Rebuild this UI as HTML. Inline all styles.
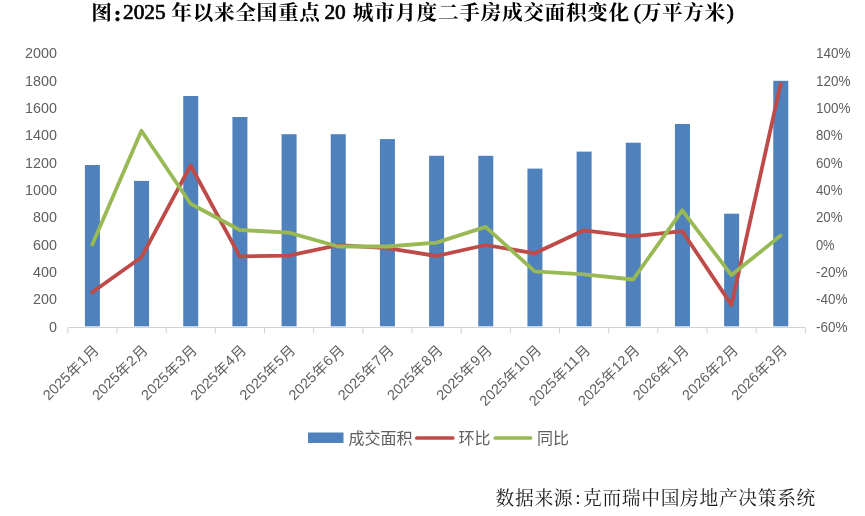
<!DOCTYPE html>
<html lang="zh-CN">
<head>
<meta charset="utf-8">
<title>图:2025年以来全国重点20城市月度二手房成交面积变化(万平方米)</title>
<style>
html,body{margin:0;padding:0;background:#fff;}
body{width:865px;height:516px;overflow:hidden;font-family:"Liberation Sans",sans-serif;}
svg{display:block;position:absolute;left:0;top:0;will-change:transform;}
text{white-space:pre;}
</style>
</head>
<body>
<svg width="865" height="516" viewBox="0 0 865 516" role="img" aria-label="图:2025年以来全国重点20城市月度二手房成交面积变化(万平方米) 数据来源:克而瑞中国房地产决策系统">
<rect x="84.90" y="165.00" width="15.0" height="161.30" fill="#4f81bd"/>
<rect x="134.07" y="180.90" width="15.0" height="145.40" fill="#4f81bd"/>
<rect x="183.24" y="96.00" width="15.0" height="230.30" fill="#4f81bd"/>
<rect x="232.41" y="117.00" width="15.0" height="209.30" fill="#4f81bd"/>
<rect x="281.58" y="134.20" width="15.0" height="192.10" fill="#4f81bd"/>
<rect x="330.75" y="134.20" width="15.0" height="192.10" fill="#4f81bd"/>
<rect x="379.92" y="139.10" width="15.0" height="187.20" fill="#4f81bd"/>
<rect x="429.09" y="155.80" width="15.0" height="170.50" fill="#4f81bd"/>
<rect x="478.26" y="155.80" width="15.0" height="170.50" fill="#4f81bd"/>
<rect x="527.43" y="168.60" width="15.0" height="157.70" fill="#4f81bd"/>
<rect x="576.60" y="151.60" width="15.0" height="174.70" fill="#4f81bd"/>
<rect x="625.77" y="142.70" width="15.0" height="183.60" fill="#4f81bd"/>
<rect x="674.94" y="124.00" width="15.0" height="202.30" fill="#4f81bd"/>
<rect x="724.11" y="213.70" width="15.0" height="112.60" fill="#4f81bd"/>
<rect x="773.28" y="80.80" width="15.0" height="245.50" fill="#4f81bd"/>
<path d="M67.81 327.5H805.37" stroke="#d2d2d2" stroke-width="1" fill="none"/>
<path d="M67.81 327.5v6.0M116.98 327.5v6.0M166.16 327.5v6.0M215.32 327.5v6.0M264.50 327.5v6.0M313.67 327.5v6.0M362.83 327.5v6.0M412.00 327.5v6.0M461.18 327.5v6.0M510.35 327.5v6.0M559.52 327.5v6.0M608.68 327.5v6.0M657.86 327.5v6.0M707.03 327.5v6.0M756.19 327.5v6.0M805.37 327.5v6.0" stroke="#d2d2d2" stroke-width="1" fill="none"/>
<polyline points="92.25,292.30 141.42,257.30 190.59,165.50 239.76,256.40 288.93,255.60 338.10,245.10 387.27,248.10 436.44,256.00 485.61,245.00 534.78,253.30 583.95,230.30 633.12,236.40 682.29,231.20 731.46,304.90 780.63,84.00" fill="none" stroke="#be4b48" stroke-width="3.8" stroke-linejoin="round" stroke-linecap="round"/>
<polyline points="92.25,244.50 141.42,130.80 190.59,203.70 239.76,230.00 288.93,232.60 338.10,246.50 387.27,246.50 436.44,242.60 485.61,226.90 534.78,271.40 583.95,274.40 633.12,279.50 682.29,210.30 731.46,275.10 780.63,235.60" fill="none" stroke="#98b954" stroke-width="3.8" stroke-linejoin="round" stroke-linecap="round"/>
<g font-family="Liberation Sans, sans-serif" font-size="14.3" fill="#5f5f5f"><text x="56.90" y="331.80" text-anchor="end" textLength="7.97" lengthAdjust="spacingAndGlyphs">0</text><text x="815.90" y="331.80" text-anchor="start" textLength="31.54" lengthAdjust="spacingAndGlyphs">-60%</text><text x="56.90" y="304.45" text-anchor="end" textLength="23.91" lengthAdjust="spacingAndGlyphs">200</text><text x="815.90" y="304.45" text-anchor="start" textLength="31.54" lengthAdjust="spacingAndGlyphs">-40%</text><text x="56.90" y="277.10" text-anchor="end" textLength="23.91" lengthAdjust="spacingAndGlyphs">400</text><text x="815.90" y="277.10" text-anchor="start" textLength="31.54" lengthAdjust="spacingAndGlyphs">-20%</text><text x="56.90" y="249.75" text-anchor="end" textLength="23.91" lengthAdjust="spacingAndGlyphs">600</text><text x="815.90" y="249.75" text-anchor="start" textLength="18.67" lengthAdjust="spacingAndGlyphs">0%</text><text x="56.90" y="222.40" text-anchor="end" textLength="23.91" lengthAdjust="spacingAndGlyphs">800</text><text x="815.90" y="222.40" text-anchor="start" textLength="26.64" lengthAdjust="spacingAndGlyphs">20%</text><text x="56.90" y="195.05" text-anchor="end" textLength="31.88" lengthAdjust="spacingAndGlyphs">1000</text><text x="815.90" y="195.05" text-anchor="start" textLength="26.64" lengthAdjust="spacingAndGlyphs">40%</text><text x="56.90" y="167.70" text-anchor="end" textLength="31.88" lengthAdjust="spacingAndGlyphs">1200</text><text x="815.90" y="167.70" text-anchor="start" textLength="26.64" lengthAdjust="spacingAndGlyphs">60%</text><text x="56.90" y="140.35" text-anchor="end" textLength="31.88" lengthAdjust="spacingAndGlyphs">1400</text><text x="815.90" y="140.35" text-anchor="start" textLength="26.64" lengthAdjust="spacingAndGlyphs">80%</text><text x="56.90" y="113.00" text-anchor="end" textLength="31.88" lengthAdjust="spacingAndGlyphs">1600</text><text x="815.90" y="113.00" text-anchor="start" textLength="34.61" lengthAdjust="spacingAndGlyphs">100%</text><text x="56.90" y="85.65" text-anchor="end" textLength="31.88" lengthAdjust="spacingAndGlyphs">1800</text><text x="815.90" y="85.65" text-anchor="start" textLength="34.61" lengthAdjust="spacingAndGlyphs">120%</text><text x="56.90" y="58.30" text-anchor="end" textLength="31.88" lengthAdjust="spacingAndGlyphs">2000</text><text x="815.90" y="58.30" text-anchor="start" textLength="34.61" lengthAdjust="spacingAndGlyphs">140%</text></g>
<g font-family="'Liberation Sans', 'Noto Sans CJK SC', sans-serif" font-size="14.3" fill="#5f5f5f"><g transform="translate(99.50 350.30) rotate(-45) translate(-71.75 0)"><text x="0.00" y="0" textLength="32.44" lengthAdjust="spacingAndGlyphs">2025</text><text x="32.99" y="0.8" font-size="14.51">年</text><text x="48.04" y="0" textLength="8.11" lengthAdjust="spacingAndGlyphs">1</text><text x="56.70" y="0.8" font-size="14.51">月</text></g><g transform="translate(148.67 350.30) rotate(-45) translate(-71.75 0)"><text x="0.00" y="0" textLength="32.44" lengthAdjust="spacingAndGlyphs">2025</text><text x="32.99" y="0.8" font-size="14.51">年</text><text x="48.04" y="0" textLength="8.11" lengthAdjust="spacingAndGlyphs">2</text><text x="56.70" y="0.8" font-size="14.51">月</text></g><g transform="translate(197.84 350.30) rotate(-45) translate(-71.75 0)"><text x="0.00" y="0" textLength="32.44" lengthAdjust="spacingAndGlyphs">2025</text><text x="32.99" y="0.8" font-size="14.51">年</text><text x="48.04" y="0" textLength="8.11" lengthAdjust="spacingAndGlyphs">3</text><text x="56.70" y="0.8" font-size="14.51">月</text></g><g transform="translate(247.01 350.30) rotate(-45) translate(-71.75 0)"><text x="0.00" y="0" textLength="32.44" lengthAdjust="spacingAndGlyphs">2025</text><text x="32.99" y="0.8" font-size="14.51">年</text><text x="48.04" y="0" textLength="8.11" lengthAdjust="spacingAndGlyphs">4</text><text x="56.70" y="0.8" font-size="14.51">月</text></g><g transform="translate(296.18 350.30) rotate(-45) translate(-71.75 0)"><text x="0.00" y="0" textLength="32.44" lengthAdjust="spacingAndGlyphs">2025</text><text x="32.99" y="0.8" font-size="14.51">年</text><text x="48.04" y="0" textLength="8.11" lengthAdjust="spacingAndGlyphs">5</text><text x="56.70" y="0.8" font-size="14.51">月</text></g><g transform="translate(345.35 350.30) rotate(-45) translate(-71.75 0)"><text x="0.00" y="0" textLength="32.44" lengthAdjust="spacingAndGlyphs">2025</text><text x="32.99" y="0.8" font-size="14.51">年</text><text x="48.04" y="0" textLength="8.11" lengthAdjust="spacingAndGlyphs">6</text><text x="56.70" y="0.8" font-size="14.51">月</text></g><g transform="translate(394.52 350.30) rotate(-45) translate(-71.75 0)"><text x="0.00" y="0" textLength="32.44" lengthAdjust="spacingAndGlyphs">2025</text><text x="32.99" y="0.8" font-size="14.51">年</text><text x="48.04" y="0" textLength="8.11" lengthAdjust="spacingAndGlyphs">7</text><text x="56.70" y="0.8" font-size="14.51">月</text></g><g transform="translate(443.69 350.30) rotate(-45) translate(-71.75 0)"><text x="0.00" y="0" textLength="32.44" lengthAdjust="spacingAndGlyphs">2025</text><text x="32.99" y="0.8" font-size="14.51">年</text><text x="48.04" y="0" textLength="8.11" lengthAdjust="spacingAndGlyphs">8</text><text x="56.70" y="0.8" font-size="14.51">月</text></g><g transform="translate(492.86 350.30) rotate(-45) translate(-71.75 0)"><text x="0.00" y="0" textLength="32.44" lengthAdjust="spacingAndGlyphs">2025</text><text x="32.99" y="0.8" font-size="14.51">年</text><text x="48.04" y="0" textLength="8.11" lengthAdjust="spacingAndGlyphs">9</text><text x="56.70" y="0.8" font-size="14.51">月</text></g><g transform="translate(542.03 350.30) rotate(-45) translate(-79.86 0)"><text x="0.00" y="0" textLength="32.44" lengthAdjust="spacingAndGlyphs">2025</text><text x="32.99" y="0.8" font-size="14.51">年</text><text x="48.04" y="0" textLength="16.22" lengthAdjust="spacingAndGlyphs">10</text><text x="64.81" y="0.8" font-size="14.51">月</text></g><g transform="translate(591.20 350.30) rotate(-45) translate(-79.86 0)"><text x="0.00" y="0" textLength="32.44" lengthAdjust="spacingAndGlyphs">2025</text><text x="32.99" y="0.8" font-size="14.51">年</text><text x="48.04" y="0" textLength="16.22" lengthAdjust="spacingAndGlyphs">11</text><text x="64.81" y="0.8" font-size="14.51">月</text></g><g transform="translate(640.37 350.30) rotate(-45) translate(-79.86 0)"><text x="0.00" y="0" textLength="32.44" lengthAdjust="spacingAndGlyphs">2025</text><text x="32.99" y="0.8" font-size="14.51">年</text><text x="48.04" y="0" textLength="16.22" lengthAdjust="spacingAndGlyphs">12</text><text x="64.81" y="0.8" font-size="14.51">月</text></g><g transform="translate(689.54 350.30) rotate(-45) translate(-71.75 0)"><text x="0.00" y="0" textLength="32.44" lengthAdjust="spacingAndGlyphs">2026</text><text x="32.99" y="0.8" font-size="14.51">年</text><text x="48.04" y="0" textLength="8.11" lengthAdjust="spacingAndGlyphs">1</text><text x="56.70" y="0.8" font-size="14.51">月</text></g><g transform="translate(738.71 350.30) rotate(-45) translate(-71.75 0)"><text x="0.00" y="0" textLength="32.44" lengthAdjust="spacingAndGlyphs">2026</text><text x="32.99" y="0.8" font-size="14.51">年</text><text x="48.04" y="0" textLength="8.11" lengthAdjust="spacingAndGlyphs">2</text><text x="56.70" y="0.8" font-size="14.51">月</text></g><g transform="translate(787.88 350.30) rotate(-45) translate(-71.75 0)"><text x="0.00" y="0" textLength="32.44" lengthAdjust="spacingAndGlyphs">2026</text><text x="32.99" y="0.8" font-size="14.51">年</text><text x="48.04" y="0" textLength="8.11" lengthAdjust="spacingAndGlyphs">3</text><text x="56.70" y="0.8" font-size="14.51">月</text></g></g>
<rect x="308" y="432.5" width="35.5" height="10.5" fill="#4f81bd"/>
<g fill="#5f5f5f" font-family="'Liberation Sans', 'Noto Sans CJK SC', sans-serif" font-size="16"><text x="348.40" y="443.90">成交面积</text><text x="458.40" y="443.90">环比</text><text x="536.90" y="443.90">同比</text></g>
<path d="M416.8 438H452.8" stroke="#be4b48" stroke-width="3.7" stroke-linecap="round" fill="none"/>
<path d="M495.2 438H530.6" stroke="#98b954" stroke-width="3.7" stroke-linecap="round" fill="none"/>
<g fill="#000"><g font-family="'Liberation Serif', 'Noto Serif CJK SC', serif" font-size="20.69" font-weight="bold" letter-spacing="0.64"><text x="91.32" y="20.36">图</text><text x="171.32" y="20.36">年以来全国重点</text><text x="352.65" y="20.36">城市月度二手房成交面积变化</text><text x="640.64" y="20.36">万平方米</text></g><g font-family="Liberation Serif, serif" font-size="21.333" stroke="#000" stroke-width="0.7" stroke-linejoin="round"><text x="113.93" y="20.80" font-weight="bold">:</text><text x="123.00" y="19.40">2025</text><text x="324.46" y="19.40">20</text><text x="633.66" y="18.80">(</text><text x="726.86" y="18.80">)</text></g></g>
<g fill="#1a1a1a"><text x="495.59" y="505.08" font-family="'Liberation Serif', 'Noto Serif CJK SC', serif" font-size="18.75" letter-spacing="0.67">数据来源</text><text x="575.18" y="504.30" font-family="Liberation Serif, serif" font-size="19.333">:</text><text x="582.98" y="505.08" font-family="'Liberation Serif', 'Noto Serif CJK SC', serif" font-size="18.75" letter-spacing="0.67">克而瑞中国房地产决策系统</text></g>
</svg>
</body>
</html>
